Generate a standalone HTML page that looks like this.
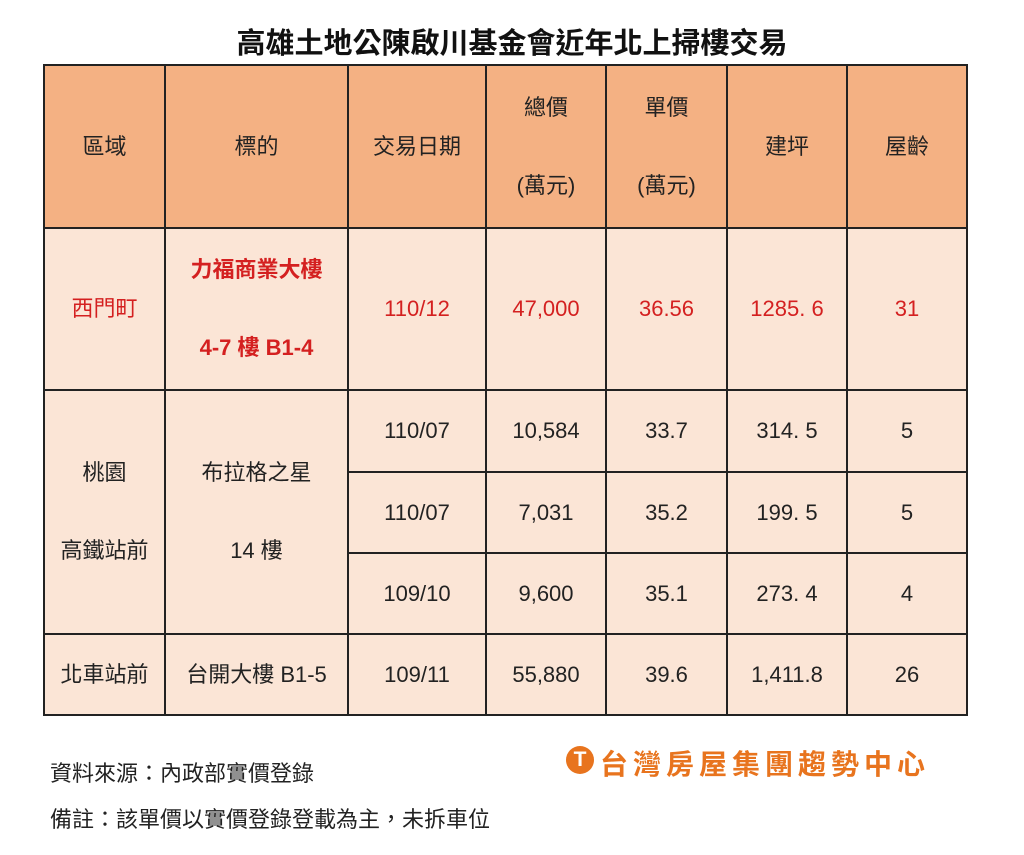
<!DOCTYPE html><html><head><meta charset="utf-8"><style>
body{margin:0;width:1024px;height:855px;background:#fff;position:relative;font-family:"Liberation Sans","Noto Sans CJK TC",sans-serif;overflow:hidden}
.t{position:absolute;white-space:nowrap}
.c{position:absolute;display:flex;align-items:center;justify-content:center;text-align:center;font-size:22px;color:#222;line-height:1.8;box-sizing:border-box}
.h{background:#F4B183}.b{background:#FBE5D6}
.r{color:#d42020}
.vl{position:absolute;width:2px;background:#222}
.hl{position:absolute;height:2px;background:#222}
</style></head><body>
<div class="t" style="left:0;width:1024px;text-align:center;top:20px;font-size:29px;font-weight:bold;color:#111">高雄土地公陳啟川基金會近年北上掃樓交易</div>
<div class="c h" style="left:44px;top:65px;width:923px;height:163px"></div>
<div class="c b" style="left:44px;top:228px;width:923px;height:487px"></div>
<div class="c" style="left:44px;top:65px;width:121px;height:163px">區域</div>
<div class="c" style="left:165px;top:65px;width:183px;height:163px">標的</div>
<div class="c" style="left:348px;top:65px;width:138px;height:163px">交易日期</div>
<div class="c" style="left:486px;top:65px;width:120px;height:163px;line-height:78px">總價<br>(萬元)</div>
<div class="c" style="left:606px;top:65px;width:121px;height:163px;line-height:78px">單價<br>(萬元)</div>
<div class="c" style="left:727px;top:65px;width:120px;height:163px">建坪</div>
<div class="c" style="left:847px;top:65px;width:120px;height:163px">屋齡</div>
<div class="c r" style="left:44px;top:228px;width:121px;height:162px">西門町</div>
<div class="c r" style="left:165px;top:228px;width:183px;height:162px;line-height:78px;font-weight:bold">力福商業大樓<br>4-7 樓 B1-4</div>
<div class="c r" style="left:348px;top:228px;width:138px;height:162px">110/12</div>
<div class="c r" style="left:486px;top:228px;width:120px;height:162px">47,000</div>
<div class="c r" style="left:606px;top:228px;width:121px;height:162px">36.56</div>
<div class="c r" style="left:727px;top:228px;width:120px;height:162px">1285. 6</div>
<div class="c r" style="left:847px;top:228px;width:120px;height:162px">31</div>
<div class="c" style="left:44px;top:390px;width:121px;height:244px;line-height:78px">桃園<br>高鐵站前</div>
<div class="c" style="left:165px;top:390px;width:183px;height:244px;line-height:78px">布拉格之星<br>14 樓</div>
<div class="c" style="left:348px;top:390px;width:138px;height:82px">110/07</div>
<div class="c" style="left:486px;top:390px;width:120px;height:82px">10,584</div>
<div class="c" style="left:606px;top:390px;width:121px;height:82px">33.7</div>
<div class="c" style="left:727px;top:390px;width:120px;height:82px">314. 5</div>
<div class="c" style="left:847px;top:390px;width:120px;height:82px">5</div>
<div class="c" style="left:348px;top:472px;width:138px;height:81px">110/07</div>
<div class="c" style="left:486px;top:472px;width:120px;height:81px">7,031</div>
<div class="c" style="left:606px;top:472px;width:121px;height:81px">35.2</div>
<div class="c" style="left:727px;top:472px;width:120px;height:81px">199. 5</div>
<div class="c" style="left:847px;top:472px;width:120px;height:81px">5</div>
<div class="c" style="left:348px;top:553px;width:138px;height:81px">109/10</div>
<div class="c" style="left:486px;top:553px;width:120px;height:81px">9,600</div>
<div class="c" style="left:606px;top:553px;width:121px;height:81px">35.1</div>
<div class="c" style="left:727px;top:553px;width:120px;height:81px">273. 4</div>
<div class="c" style="left:847px;top:553px;width:120px;height:81px">4</div>
<div class="c" style="left:44px;top:634px;width:121px;height:81px">北車站前</div>
<div class="c" style="left:165px;top:634px;width:183px;height:81px">台開大樓 B1-5</div>
<div class="c" style="left:348px;top:634px;width:138px;height:81px">109/11</div>
<div class="c" style="left:486px;top:634px;width:120px;height:81px">55,880</div>
<div class="c" style="left:606px;top:634px;width:121px;height:81px">39.6</div>
<div class="c" style="left:727px;top:634px;width:120px;height:81px">1,411.8</div>
<div class="c" style="left:847px;top:634px;width:120px;height:81px">26</div>
<div class="vl" style="left:43px;top:65px;height:651px"></div>
<div class="vl" style="left:164px;top:65px;height:651px"></div>
<div class="vl" style="left:347px;top:65px;height:651px"></div>
<div class="vl" style="left:485px;top:65px;height:651px"></div>
<div class="vl" style="left:605px;top:65px;height:651px"></div>
<div class="vl" style="left:726px;top:65px;height:651px"></div>
<div class="vl" style="left:846px;top:65px;height:651px"></div>
<div class="vl" style="left:966px;top:65px;height:651px"></div>
<div class="hl" style="left:43px;top:64px;width:925px"></div>
<div class="hl" style="left:43px;top:227px;width:925px"></div>
<div class="hl" style="left:43px;top:389px;width:925px"></div>
<div class="hl" style="left:347px;top:471px;width:621px"></div>
<div class="hl" style="left:347px;top:552px;width:621px"></div>
<div class="hl" style="left:43px;top:633px;width:925px"></div>
<div class="hl" style="left:43px;top:714px;width:925px"></div>
<div class="t" style="left:50px;top:756px;font-size:22px;color:#222">資料來源：內政部實價登錄</div>
<div class="t" style="left:50px;top:802px;font-size:22px;color:#222">備註：該單價以實價登錄登載為主，未拆車位</div>
<div class="t" style="left:566px;top:746px;width:28px;height:28px;border-radius:50%;background:#E8741E;color:#fff;font-size:21px;font-weight:bold;text-align:center;line-height:28px">T</div>
<div class="t" style="left:600px;top:743px;font-size:28px;font-weight:bold;color:#E8741E;letter-spacing:5px">台灣房屋集團趨勢中心</div>
</body></html>
